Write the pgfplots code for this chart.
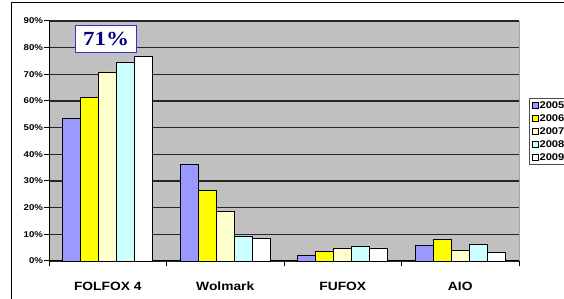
\documentclass[border=0pt]{standalone}
\usepackage{fontspec}
\setmainfont{Liberation Sans}[FakeStretch=1.15]
\newfontfamily\timesfont{Liberation Serif}[FakeStretch=1.15]
\usepackage{pgfplots}
\pgfplotsset{compat=1.18}
\definecolor{cA}{HTML}{9999FF}
\definecolor{cB}{HTML}{FFFF00}
\definecolor{cC}{HTML}{FFFFCC}
\definecolor{cD}{HTML}{CCFFFF}
\definecolor{cE}{HTML}{FFFFFF}
\definecolor{plotbg}{HTML}{C0C0C0}
\definecolor{navyt}{HTML}{000080}
\definecolor{boxblue}{HTML}{3333CC}
\begin{document}
\begin{tikzpicture}
\useasboundingbox (0,0) rectangle (423pt,224.25pt);
\clip (0,0) rectangle (423pt,224.25pt);
% outer chart frame (clipped at right and bottom)
\draw[black, line width=0.75pt] (8.8pt,222.5pt) rectangle (480pt,-40pt);
\begin{axis}[
  at={(36.75pt,28.5pt)}, anchor=south west,
  scale only axis, width=352.5pt, height=180pt,
  xmin=-0.5, xmax=3.5, ymin=0, ymax=90,
  ybar=0pt, bar width=13.5pt,
  axis lines*=left,
  axis line style={black, line width=0.75pt},
  axis background/.style={fill=plotbg},
  ymajorgrids, grid style={black!85, line width=0.8pt},
  xtick={0,1,2,3},
  xticklabels={FOLFOX 4, Wolmark, FUFOX, AIO},
  minor xtick={-0.5,0.5,1.5,2.5,3.5},
  major x tick style={draw=none},
  minor tick length=3.75pt,
  major tick length=3.75pt,
  tick align=outside,
  tick style={black, line width=0.75pt},
  ytick={0,10,...,90},
  yticklabels={0\%,10\%,20\%,30\%,40\%,50\%,60\%,70\%,80\%,90\%},
  yticklabel style={font=\fontsize{6.3}{7}\selectfont\bfseries, inner sep=0.5pt},
  xticklabel style={font=\fontsize{9}{10}\selectfont\bfseries, text height=6.6pt, text depth=0pt, yshift=-8pt},
  legend style={at={(1.022,0.679)}, anchor=north west, draw=black!70, line width=0.5pt, fill=white,
    font=\fontsize{7.3}{8}\selectfont\bfseries, row sep=2.6pt, inner sep=1.5pt,
    nodes={inner sep=1pt, text height=5.2pt, text depth=0pt}},
  legend cell align=left,
  legend image code/.code={\draw[#1, line width=0.4pt] (0pt,-2.2pt) rectangle (4.5pt,2.2pt);},
  every axis plot/.append style={draw=black, line width=0.6pt},
  clip=false,
]
\addplot[fill=cA] coordinates {(0,53.5) (1,36.2) (2,2.1) (3,5.9)};
\addplot[fill=cB] coordinates {(0,61.4) (1,26.6) (2,3.7) (3,8.1)};
\addplot[fill=cC] coordinates {(0,70.9) (1,18.5) (2,4.6) (3,3.9)};
\addplot[fill=cD] coordinates {(0,74.6) (1,9.2) (2,5.4) (3,6.3)};
\addplot[fill=cE] coordinates {(0,76.7) (1,8.5) (2,4.9) (3,3.3)};
\legend{2005,2006,2007,2008,2009}
\draw[black!35, line width=0.75pt] (rel axis cs:1,0) -- (rel axis cs:1,1);
\end{axis}
\node[draw=boxblue, line width=0.6pt, fill=white, minimum width=45.75pt, minimum height=20pt, inner sep=0pt,
  text=navyt, font=\timesfont\fontsize{15}{16}\selectfont\bfseries] at (79.6pt,195pt) {71\%};
\end{tikzpicture}
\end{document}
